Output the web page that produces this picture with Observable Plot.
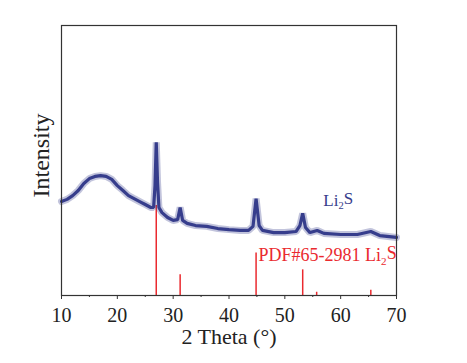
<!DOCTYPE html>
<html>
<head>
<meta charset="utf-8">
<script src="https://cdn.jsdelivr.net/npm/d3@7"></script>
<script src="https://cdn.jsdelivr.net/npm/@observablehq/plot@0.6"></script>
<style>
  html, body { margin: 0; padding: 0; background: #fff; }
  #chart { width: 467px; height: 363px; }
</style>
</head>
<body>
<div id="chart"></div>
<script>
// Measured XRD pattern (2θ in degrees, intensity in arbitrary units)
const twoTheta = [10.0, 11.0, 12.0, 13.0, 14.0, 15.0, 16.0, 17.0, 18.0, 19.0, 20.0, 21.0, 22.0, 23.0, 24.0, 25.0, 26.0, 26.5, 26.75, 26.97, 27.2, 27.45, 28.0, 29.0, 30.0, 30.8, 31.25, 31.7, 32.5, 34.0, 36.0, 38.0, 40.0, 42.0, 43.5, 44.3, 44.85, 45.4, 46.0, 48.0, 50.0, 52.0, 52.7, 53.2, 53.7, 54.5, 55.8, 57.0, 60.0, 63.0, 65.4, 67.0, 70.0];
const intensity = [34.8, 35.6, 37.0, 38.9, 41.5, 43.3, 44.1, 44.4, 44.1, 43.0, 40.7, 38.9, 37.0, 35.9, 34.8, 33.7, 32.6, 32.6, 40.7, 56.7, 41.9, 32.6, 30.7, 28.9, 27.8, 28.1, 32.6, 27.8, 26.7, 25.9, 25.6, 24.8, 24.4, 24.1, 24.1, 25.6, 35.9, 25.9, 24.1, 23.3, 23.3, 23.7, 25.9, 30.4, 25.2, 23.3, 24.1, 23.0, 22.6, 22.6, 23.7, 22.2, 21.5];

// Reference pattern PDF#65-2981 Li2S (stick positions and heights)
const refTwoTheta = [26.97, 31.25, 44.85, 53.2, 55.7, 65.4];
const refIntensity = [33.3, 7.7, 15.7, 9.5, 1.2, 1.9];

const majorTicks = [10, 20, 30, 40, 50, 60, 70];
const minorTicks = [15, 25, 35, 45, 55, 65];

const sampleLabel = "Li2S";
const refLabel = "PDF#65-2981 Li2S";
const xLabel = "2 Theta (°)";
const yLabel = "Intensity";

const pattern = twoTheta.map((x, i) => ({x, y: intensity[i]}));
const sticks = refTwoTheta.map((x, i) => ({x, y: refIntensity[i]}));

const blue = "#363d8c";
const red = "#ea2a2f";

const plot = Plot.plot({
  width: 467,
  height: 363,
  marginLeft: 61,
  marginRight: 71,
  marginTop: 25,
  marginBottom: 68,
  style: {fontFamily: "Liberation Serif", background: "#fff", color: "#222"},
  x: {domain: [10, 70]},
  y: {domain: [0, 100]},
  marks: [
    Plot.ruleX(sticks, {x: "x", y1: 0, y2: "y", stroke: red, strokeWidth: 1.5}),
    Plot.line(pattern, {x: "x", y: "y", stroke: blue, strokeWidth: 7, strokeOpacity: 0.3, strokeLinejoin: "miter"}),
    Plot.line(pattern, {x: "x", y: "y", stroke: blue, strokeWidth: 3.2, strokeLinejoin: "miter"}),
    Plot.frame({stroke: "#333", strokeWidth: 1.2}),
    Plot.axisX({ticks: majorTicks, tickSize: 4, tickPadding: 8, fontSize: 20, label: null, tickFormat: d => String(d), stroke: "#333"}),
    Plot.axisX({ticks: minorTicks, tickSize: 2, text: null, label: null, stroke: "#333"}),
    Plot.axisY({ticks: [], label: null}),
    Plot.text([xLabel], {frameAnchor: "bottom", dy: 48, fontSize: 22, lineAnchor: "bottom", fill: "#222"}),
    Plot.text([yLabel], {frameAnchor: "left", textAnchor: "middle", rotate: -90, dx: -20, dy: -5, fontSize: 24, lineAnchor: "middle", fill: "#222"}),
    Plot.text([sampleLabel], {x: 56.9, y: 33.3, textAnchor: "start", lineAnchor: "bottom", fontSize: 17, fill: blue}),
    Plot.text([refLabel], {x: 45.3, y: 12.6, textAnchor: "start", lineAnchor: "bottom", fontSize: 18, fill: red})
  ]
});

// Render "Li2S" with a subscript 2
d3.select(plot).selectAll("text").each(function() {
  const t = this.textContent;
  if (t.endsWith("Li2S")) {
    const el = d3.select(this);
    const pre = t.slice(0, t.length - 4);
    el.text(null);
    el.append("tspan").text(pre + "Li");
    el.append("tspan").attr("dy", "0.3em").attr("font-size", "0.62em").text("2");
    el.append("tspan").attr("dy", "-0.3em").text("S");
  }
});

document.getElementById("chart").appendChild(plot);
</script>
</body>
</html>
